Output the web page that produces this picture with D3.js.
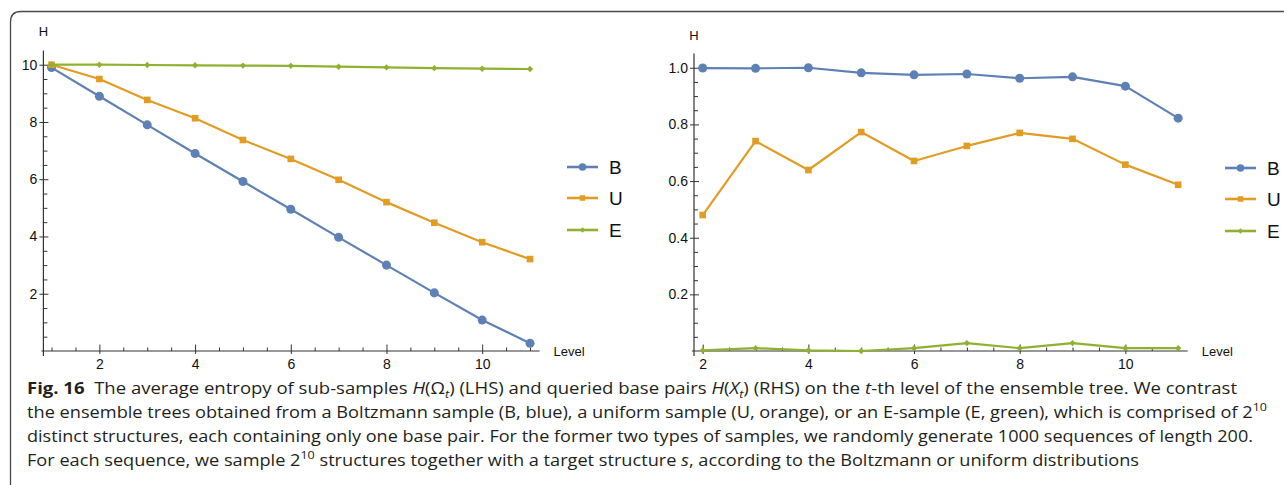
<!DOCTYPE html>
<html>
<head>
<meta charset="utf-8">
<script src="https://cdn.jsdelivr.net/npm/d3@7"></script>
<style>
  html, body { margin: 0; padding: 0; background: #fff; }
  svg { display: block; }
</style>
</head>
<body>
<svg id="fig" width="1284" height="485"></svg>
<script>
// ---- data ----
const levelsLeft = [1, 2, 3, 4, 5, 6, 7, 8, 9, 10, 11];
const bLeft = [9.9, 8.9, 7.9, 6.9, 5.92, 4.95, 3.97, 3.0, 2.03, 1.08, 0.27];
const uLeft = [10.0, 9.5, 8.77, 8.13, 7.37, 6.71, 5.98, 5.2, 4.48, 3.8, 3.21];
const eLeft = [10.0, 10.0, 9.99, 9.98, 9.97, 9.96, 9.93, 9.91, 9.88, 9.86, 9.85];

const levelsRight = [2, 3, 4, 5, 6, 7, 8, 9, 10, 11];
const bRight = [0.999, 0.998, 1.0, 0.982, 0.975, 0.978, 0.963, 0.968, 0.935, 0.822];
const uRight = [0.48, 0.741, 0.639, 0.773, 0.671, 0.724, 0.77, 0.749, 0.658, 0.587];
const eRight = [0.002, 0.01, 0.002, 0.0, 0.01, 0.028, 0.01, 0.028, 0.01, 0.01];

const seriesNames = ["B", "U", "E"];
const seriesColors = ["#5E81B5", "#E19C24", "#8FB131"];
const seriesShapes = ["circle", "square", "diamond"];

const leftXTicks = [2, 4, 6, 8, 10];
const leftYTicks = [2, 4, 6, 8, 10];
const rightXTicks = [2, 4, 6, 8, 10];
const rightYTicks = [0.2, 0.4, 0.6, 0.8, 1.0];

const svg = d3.select("#fig");
const axisColor = "#333";
const labelFont = "'Liberation Sans', Arial, sans-serif";

// outer frame with rounded top-left corner
svg.append("path")
  .attr("d", "M10.5,490 L10.5,22 Q10.5,11.5 21,11.5 L1290,11.5")
  .attr("fill", "none").attr("stroke", "#4a4a4a").attr("stroke-width", 1.3);

function markerPath(shape, scale) {
  if (shape === "circle") return d3.symbol(d3.symbolCircle, 64 * scale)();
  if (shape === "square") return d3.symbol(d3.symbolSquare, 44 * scale)();
  return d3.symbol(d3.symbolSquare, 20 * scale)();
}

function drawPanel(opt) {
  const g = svg.append("g");
  const x = d3.scaleLinear().domain(opt.xDomain).range(opt.xRange);
  const y = d3.scaleLinear().domain(opt.yDomain).range(opt.yRange);
  const x0 = opt.xRange[0], y0 = opt.yRange[0];

  // y axis: minor ticks (inside), major ticks (crossing) with labels
  const yMinor = d3.range(opt.yMinorStep, opt.yDomain[1], opt.yMinorStep)
    .filter(v => !opt.yTicks.some(t => Math.abs(t - v) < 1e-9));
  g.append("g").attr("transform", `translate(${x0},0)`)
    .call(d3.axisLeft(y).tickValues(yMinor).tickSize(-4).tickFormat(""))
    .call(a => a.select(".domain").remove())
    .call(a => a.selectAll("line").attr("stroke", axisColor));
  const ya = g.append("g").attr("transform", `translate(${x0},0)`)
    .call(d3.axisLeft(y).tickValues(opt.yTicks).tickSize(4).tickPadding(2).tickFormat(opt.yFormat))
    .call(a => a.select(".domain").remove());
  ya.selectAll(".tick line").attr("x1", 5).attr("stroke", axisColor);
  ya.selectAll(".tick text").attr("font-family", labelFont).attr("font-size", 14).attr("fill", "#111");

  // x axis: minor ticks (up), major ticks (crossing) with labels
  const xMinor = d3.range(Math.ceil(opt.xDomain[0] * 2) / 2, opt.xDomain[1], 0.5)
    .filter(v => !opt.xTicks.includes(v));
  g.append("g").attr("transform", `translate(0,${y0})`)
    .call(d3.axisBottom(x).tickValues(xMinor).tickSize(-3.5).tickFormat(""))
    .call(a => a.select(".domain").remove())
    .call(a => a.selectAll("line").attr("stroke", axisColor));
  const xa = g.append("g").attr("transform", `translate(0,${y0})`)
    .call(d3.axisBottom(x).tickValues(opt.xTicks).tickSize(3).tickPadding(5).tickFormat(d3.format("d")))
    .call(a => a.select(".domain").remove());
  xa.selectAll(".tick line").attr("y1", -6.5).attr("stroke", axisColor);
  xa.selectAll(".tick text").attr("font-family", labelFont).attr("font-size", 14).attr("fill", "#111");

  // axis lines
  g.append("line").attr("x1", x0).attr("x2", x0).attr("y1", opt.yRange[1]).attr("y2", y0 + 5)
    .attr("stroke", axisColor).attr("stroke-width", 1.2);
  g.append("line").attr("x1", x0 - 2).attr("x2", opt.xRange[1]).attr("y1", y0).attr("y2", y0)
    .attr("stroke", axisColor).attr("stroke-width", 1.2);

  // axis titles
  g.append("text").attr("x", x0).attr("y", opt.yRange[1] - 14).attr("text-anchor", "middle")
    .attr("font-family", labelFont).attr("font-size", 13).attr("fill", "#111").text("H");
  g.append("text").attr("x", opt.xRange[1] + 14).attr("y", y0 + 5)
    .attr("font-family", labelFont).attr("font-size", 13).attr("fill", "#111").text("Level");

  // series
  opt.series.forEach((vals, i) => {
    const pts = opt.levels.map((l, k) => [l, vals[k]]);
    const line = d3.line().x(d => x(d[0])).y(d => y(d[1]));
    g.append("path").attr("d", line(pts)).attr("fill", "none")
      .attr("stroke", seriesColors[i]).attr("stroke-width", 2.2)
      .attr("stroke-linejoin", "round");
    g.selectAll(null).data(pts).enter().append("path")
      .attr("d", markerPath(seriesShapes[i], 1))
      .attr("transform", d => `translate(${x(d[0])},${y(d[1])})` + (seriesShapes[i] === "diamond" ? " rotate(45)" : ""))
      .attr("fill", seriesColors[i]);
  });

  // legend
  const lg = g.append("g");
  seriesNames.forEach((name, i) => {
    const cy = opt.legendY[i];
    const lx = opt.legendX;
    lg.append("line").attr("x1", lx).attr("x2", lx + 31).attr("y1", cy).attr("y2", cy)
      .attr("stroke", seriesColors[i]).attr("stroke-width", 2.6);
    lg.append("path").attr("d", markerPath(seriesShapes[i], 0.7))
      .attr("transform", `translate(${lx + 15.5},${cy})` + (seriesShapes[i] === "diamond" ? " rotate(45)" : ""))
      .attr("fill", seriesColors[i]);
    lg.append("text").attr("x", lx + 42).attr("y", cy + 7)
      .attr("font-family", labelFont).attr("font-size", 19).attr("fill", "#111").text(name);
  });
}

drawPanel({
  xDomain: [0.83, 11.2], xRange: [43.4, 539.6],
  yDomain: [0, 10.5], yRange: [351, 50.4],
  xTicks: leftXTicks, yTicks: leftYTicks, yMinorStep: 0.5,
  yFormat: d3.format("d"),
  levels: levelsLeft, series: [bLeft, uLeft, eLeft],
  legendX: 567, legendY: [167, 198, 230]
});

drawPanel({
  xDomain: [1.835, 11.18], xRange: [694, 1187.7],
  yDomain: [0, 1.05], yRange: [351, 53.6],
  xTicks: rightXTicks, yTicks: rightYTicks, yMinorStep: 0.05,
  yFormat: d3.format(".1f"),
  levels: levelsRight, series: [bRight, uRight, eRight],
  legendX: 1225, legendY: [168, 199, 231]
});

// ---- caption ----
const capFont = "'Open Sans', 'Noto Sans', sans-serif";
const captionLines = [
  { y: 394, width: 1210, parts: [
    { t: "Fig. 16", b: true }, { t: "  The average entropy of sub-samples " },
    { t: "H", i: true }, { t: "(Ω" }, { t: "t", i: true, sub: true }, { t: ")", back: true },
    { t: " (LHS) and queried base pairs " },
    { t: "H", i: true }, { t: "(" }, { t: "X", i: true }, { t: "t", i: true, sub: true }, { t: ")", back: true },
    { t: " (RHS) on the " }, { t: "t", i: true }, { t: "-th level of the ensemble tree. We contrast" }
  ]},
  { y: 418, width: 1240, parts: [
    { t: "the ensemble trees obtained from a Boltzmann sample (B, blue), a uniform sample (U, orange), or an E-sample (E, green), which is comprised of 2" },
    { t: "10", sup: true }
  ]},
  { y: 442, width: 1226, parts: [
    { t: "distinct structures, each containing only one base pair. For the former two types of samples, we randomly generate 1000 sequences of length 200." }
  ]},
  { y: 466, width: 1112, parts: [
    { t: "For each sequence, we sample 2" }, { t: "10", sup: true },
    { t: " structures together with a target structure ", up: true }, { t: "s", i: true },
    { t: ", according to the Boltzmann or uniform distributions" }
  ]}
];

captionLines.forEach(line => {
  const txt = svg.append("text").attr("x", 27).attr("y", line.y)
    .attr("font-family", capFont).attr("font-size", 16).attr("fill", "#231f20")
    .attr("textLength", line.width).attr("lengthAdjust", "spacingAndGlyphs")
    .attr("xml:space", "preserve");
  line.parts.forEach(p => {
    const ts = txt.append("tspan").text(p.t);
    if (p.b) ts.attr("font-weight", "bold");
    if (p.i) ts.attr("font-style", "italic");
    if (p.sub) ts.attr("dy", 4).attr("font-size", 11);
    if (p.back) ts.attr("dy", -4);
    if (p.sup) ts.attr("dy", -7).attr("font-size", 11);
    if (p.up) ts.attr("dy", 7);
  });
});
</script>
</body>
</html>
